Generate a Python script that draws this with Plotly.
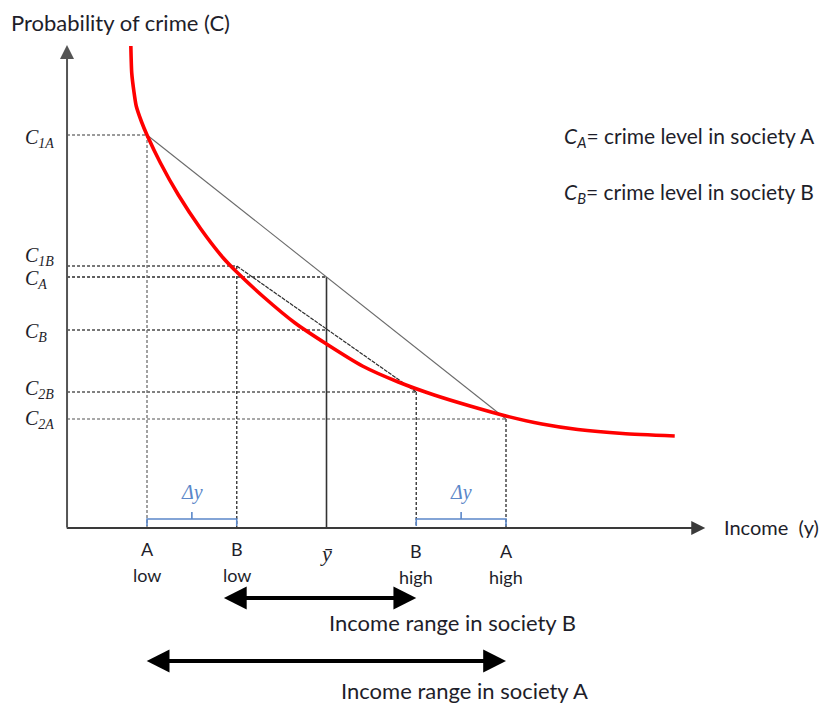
import plotly.graph_objects as go

# ---------------- data ----------------
income_labels = ["A<br>low", "B<br>low", "ȳ", "B<br>high", "A<br>high"]
A_low, B_low, y_bar, B_high, A_high = 1.0, 2.0, 3.0, 4.0, 5.0

C1A, C1B, CA, CB, C2B, C2A = 3.93, 2.62, 2.51, 1.98, 1.36, 1.09

curve_x = [0.82, 0.83, 0.855, 0.88, 0.94, 1.00, 1.15, 1.35, 1.60, 1.85, 2.00,
           2.30, 2.65, 3.00, 3.40, 3.80, 4.20, 4.60, 5.00, 5.40, 5.80, 6.30, 6.88]
curve_y = [4.82, 4.55, 4.36, 4.22, 4.06, 3.93, 3.65, 3.33, 2.99, 2.70, 2.56,
           2.31, 2.05, 1.84, 1.62, 1.46, 1.33, 1.22, 1.12, 1.04, 0.985, 0.945, 0.92]

# page has an 8px body margin, so the figure is drawn 8px in from the corner
OFF = 8
W, H = 834 - OFF, 707 - OFF
X_RANGE = [-0.5487, 8.6546]
Y_RANGE = [-1.79, 5.20]
AXIS_X = 0.109          # where the vertical axis sits
X_END, Y_END = 7.22, 4.83

TXT = "#1e1e2a"
FONT = "Lato"
SERIF = "Liberation Serif"
BLUE = "#5b87c9"

fig = go.Figure()

def seg(xs, ys, color, width=1.2, dash="solid"):
    fig.add_trace(go.Scatter(x=xs, y=ys, mode="lines", hoverinfo="skip",
                             line=dict(color=color, width=width, dash=dash),
                             showlegend=False))

# horizontal guide lines
for lvl, xe, col in [(C1A, A_low, "#7a7a7a"), (C1B, B_low, "#4a4a4a"),
                     (CA, y_bar, "#2a2a2a"), (CB, y_bar, "#4a4a4a"),
                     (C2B, B_high, "#555555"), (C2A, A_high, "#8a8a8a")]:
    seg([AXIS_X, xe], [lvl, lvl], col, 1.4, "3px,2px")

# vertical guide lines
seg([A_low, A_low], [C1A, 0], "#7a7a7a", 1.4, "3px,2px")
seg([B_low, B_low], [C1B, 0], "#3a3a3a", 1.4, "3px,2px")
seg([y_bar, y_bar], [CA, 0], "#333333", 1.6)
seg([B_high, B_high], [C2B, 0], "#3a3a3a", 1.4, "3px,2px")
seg([A_high, A_high], [C2A, 0], "#3a3a3a", 1.4, "3px,2px")

# chords
seg([A_low, A_high], [C1A, C2A], "#6a6a6a", 1.1)
seg([B_low, B_high], [C1B, C2B], "#2e2e2e", 1.2, "4px,1px")

# delta-y brackets
for x0, x1 in [(A_low, B_low), (B_high, A_high)]:
    seg([x0, x0, x1, x1], [0.02, 0.09, 0.09, 0.02], BLUE, 1.6)
    seg([(x0 + x1) / 2] * 2, [0.09, 0.16], BLUE, 1.6)

# crime curve
fig.add_trace(go.Scatter(x=curve_x, y=curve_y, mode="lines", hoverinfo="skip",
                         line=dict(color="#ff0000", width=3.6, shape="spline", smoothing=0.6),
                         showlegend=False))

ann = []
def arrow(x, y, ax, ay, width, color, side="end", head=2, size=1.0):
    ann.append(dict(x=x, y=y, ax=ax, ay=ay, xref="x", yref="y", axref="x", ayref="y",
                    text="", showarrow=True, arrowhead=head, startarrowhead=head,
                    arrowsize=size, startarrowsize=size, arrowwidth=width,
                    arrowcolor=color, arrowside=side, standoff=0, startstandoff=0))

# axes
arrow(X_END, 0, AXIS_X - 0.02, 0, 2.0, "#3a3a3a", size=1.4)
arrow(AXIS_X, Y_END, AXIS_X, -0.01, 2.0, "#555555", size=1.4)

# income range arrows
arrow(B_high, -0.70, B_low - 0.16, -0.70, 3.8, "#000000", side="end+start", size=1.2)
arrow(A_high, -1.33, A_low - 0.02, -1.33, 3.8, "#000000", side="end+start", size=1.2)

def px(x): return (x - OFF) / W
def py(y): return 1 - (y - OFF) / H

def text(t, x, y, size=22, xa="left", color=TXT, family=FONT):
    ann.append(dict(text=t, x=px(x), y=py(y), xref="paper", yref="paper",
                    showarrow=False, xanchor=xa, yanchor="middle",
                    font=dict(size=size, color=color, family=family)))

text("Probability of crime (C)", 9, 22)
text("<i>C<sub>A</sub></i>= crime level in society A", 562, 137, size=21)
text("<i>C<sub>B</sub></i>= crime level in society B", 562, 193, size=21)
text("Income  (y)", 722, 527, size=20)
text("Income range in society B", 327, 622)
text("Income range in society A", 339, 690)

# income tick labels under the axis (data x positions)
for xv, lab in zip([A_low, B_low, y_bar, B_high, A_high], income_labels):
    if lab == "ȳ":
        ann.append(dict(text="<i>ȳ</i>", x=xv, y=-0.25, xref="x", yref="y", showarrow=False,
                        font=dict(size=22, color=TXT, family=SERIF)))
    else:
        top, bot = lab.split("<br>")
        dy = 0.02 if bot == "high" else 0
        ann.append(dict(text=top, x=xv, y=-0.21 - dy, xref="x", yref="y", showarrow=False,
                        font=dict(size=18, color=TXT, family=FONT)))
        ann.append(dict(text=bot, x=xv, y=-0.47 - dy, xref="x", yref="y", showarrow=False,
                        font=dict(size=18, color=TXT, family=FONT)))

# delta y labels
for xv in [(A_low + B_low) / 2, (B_high + A_high) / 2]:
    ann.append(dict(text="<i>Δy</i>", x=xv, y=0.36, xref="x", yref="y", showarrow=False,
                    font=dict(size=20, color=BLUE, family=SERIF)))

# level labels on the vertical axis
for t, yy in [("<i>C<sub>1A</sub></i>", 138), ("<i>C<sub>1B</sub></i>", 256),
              ("<i>C<sub>A</sub></i>", 280), ("<i>C<sub>B</sub></i>", 332),
              ("<i>C<sub>2B</sub></i>", 389), ("<i>C<sub>2A</sub></i>", 419)]:
    text(t, 23, yy, size=20, family=SERIF)

fig.update_layout(
    width=W, height=H, margin=dict(l=0, r=0, t=0, b=0),
    paper_bgcolor="white", plot_bgcolor="white",
    xaxis=dict(range=X_RANGE, visible=False, fixedrange=True),
    yaxis=dict(range=Y_RANGE, visible=False, fixedrange=True),
    annotations=ann, showlegend=False,
)

fig.write_html("out.html")
